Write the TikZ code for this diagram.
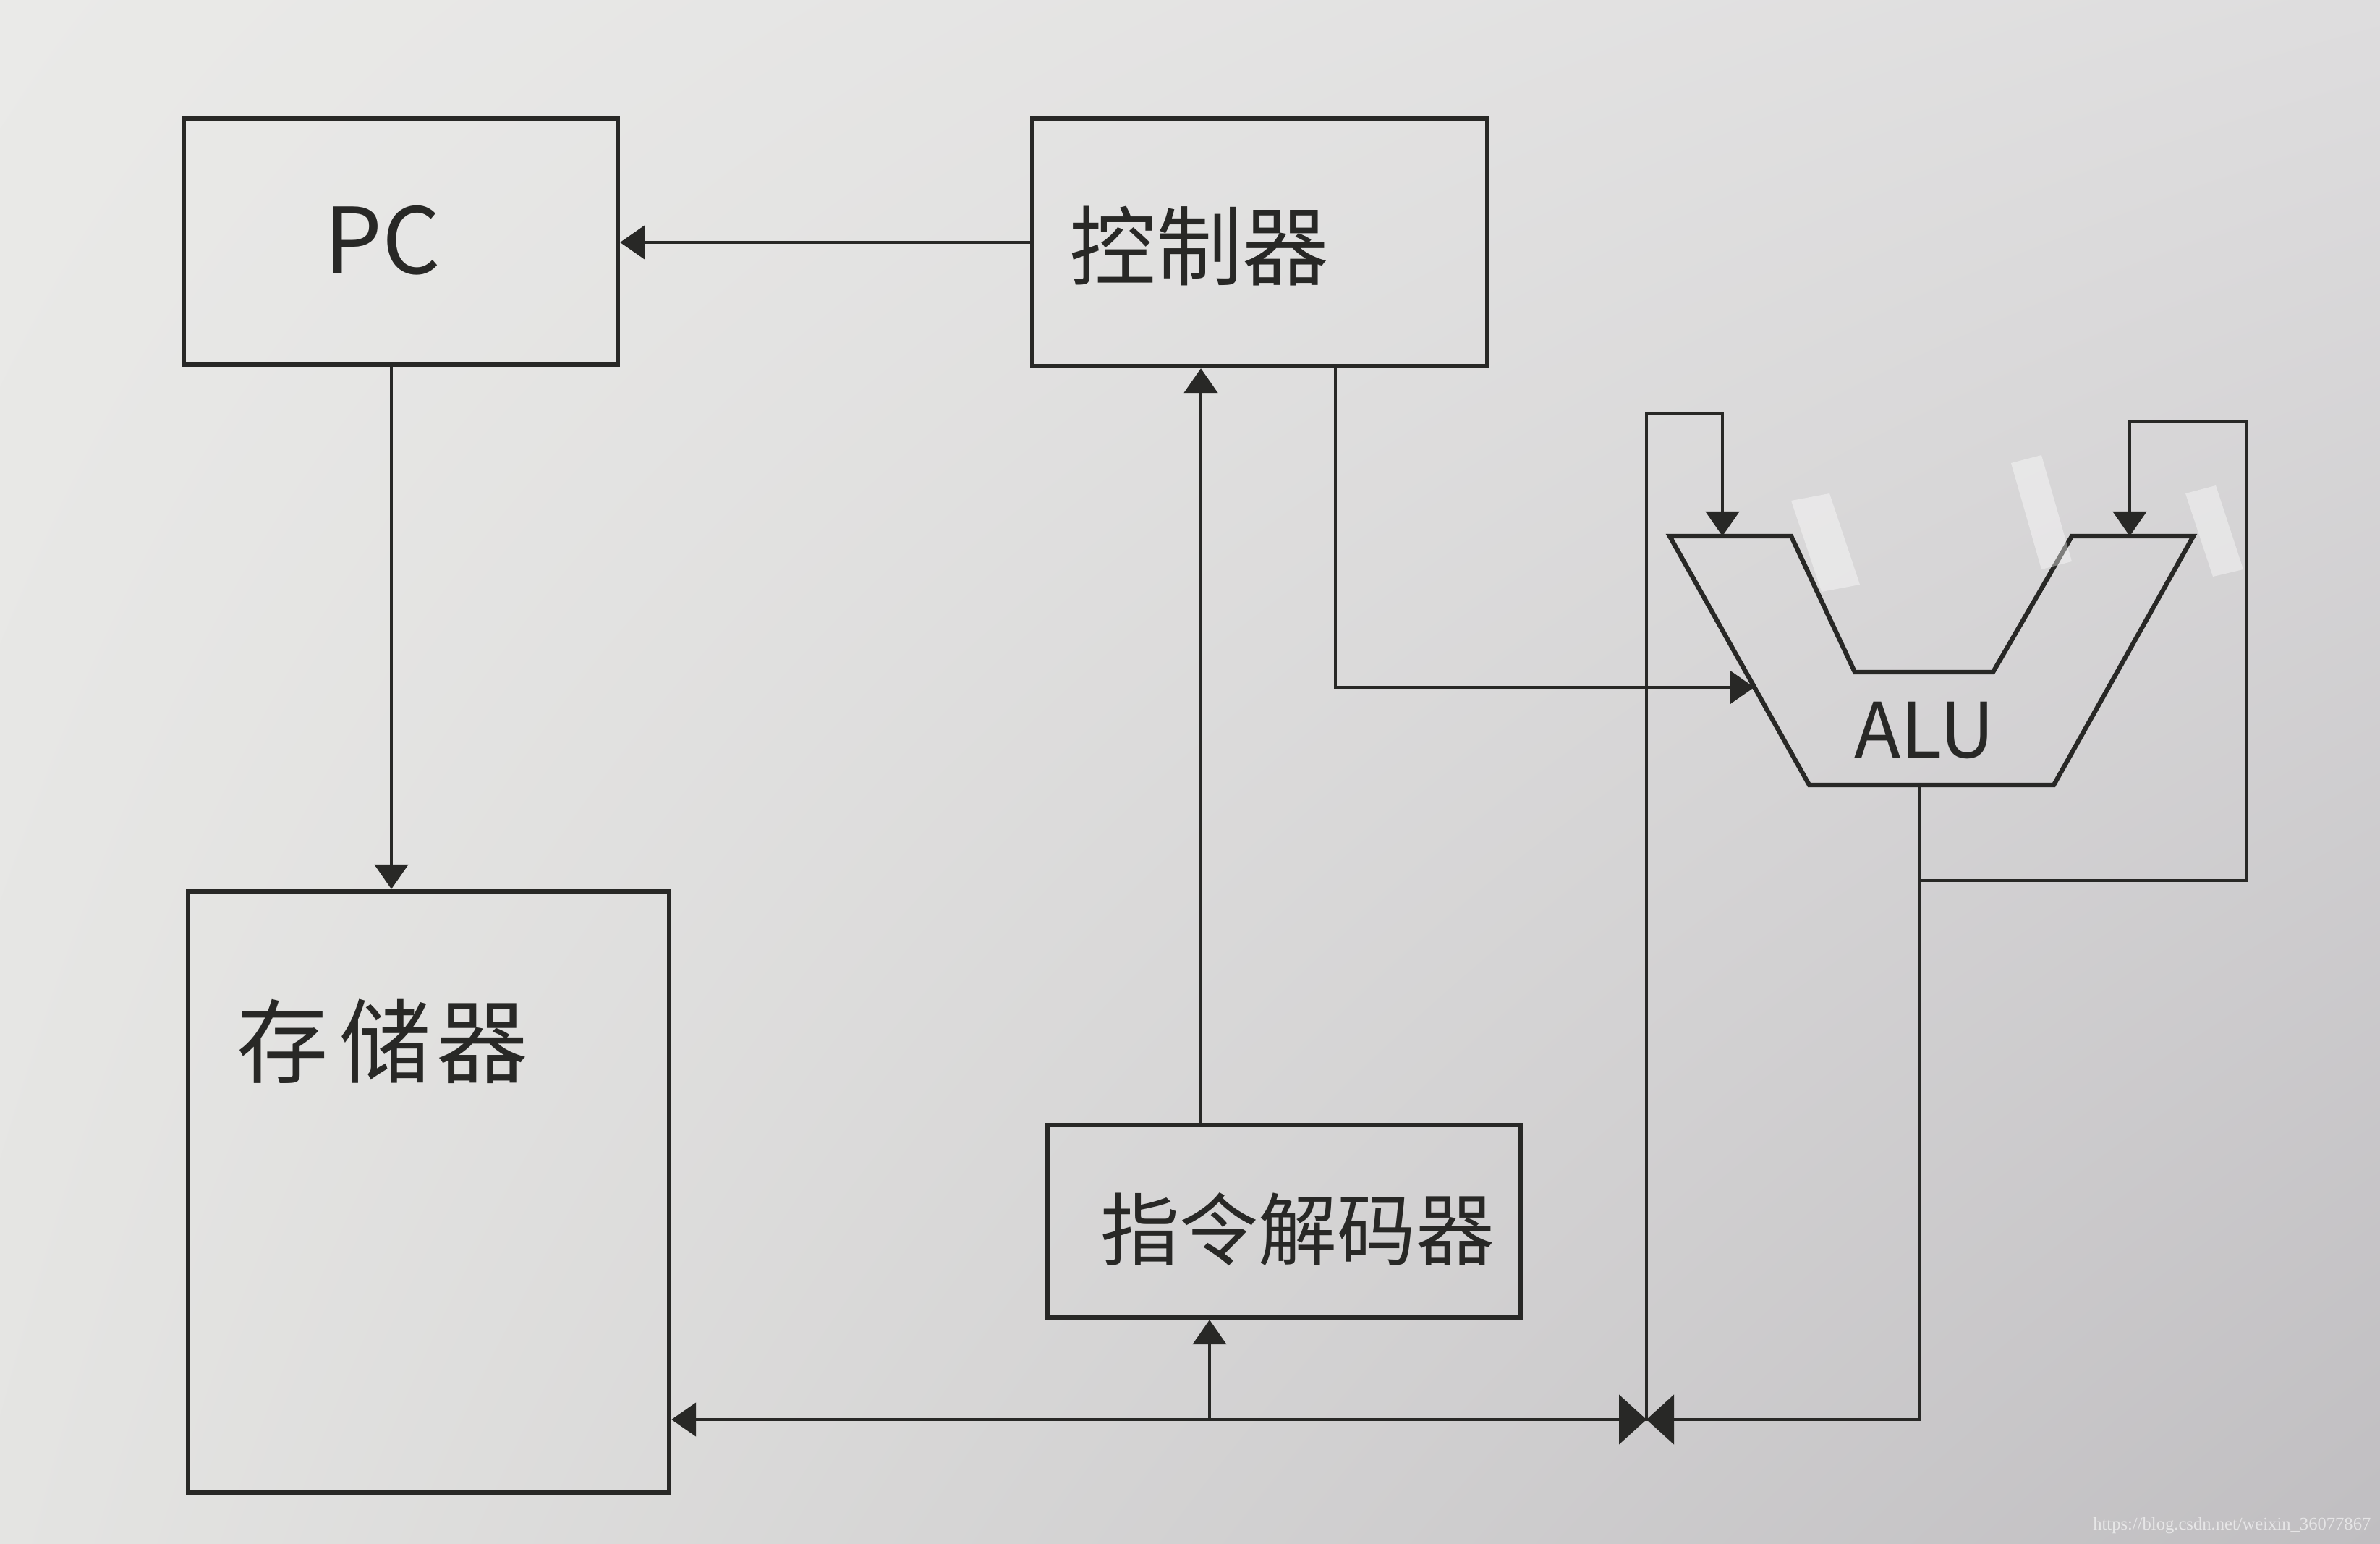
\documentclass[tikz,border=0pt]{standalone}
\usepackage{fontspec}
\usetikzlibrary{arrows.meta,calc,shadings}
\newfontfamily\cjk{Noto Sans CJK SC}
\newfontfamily\wmfont{Liberation Serif}
\definecolor{ink}{RGB}{40,40,38}
\definecolor{paperUL}{RGB}{234,234,232}
\definecolor{paperUR}{RGB}{222,221,222}
\definecolor{paperLL}{RGB}{228,228,226}
\definecolor{paperLR}{RGB}{192,190,193}
\tikzset{
  box/.style={draw=ink, line width=1.8pt, rectangle, inner sep=0pt},
  wire/.style={draw=ink, line width=1.4pt},
  arr/.style={wire, -{Triangle[length=0.34cm,width=0.46cm]}},
  tie/.style={wire, -{Triangle[length=0.38cm,width=0.68cm]}},
  lbl/.style={text=ink, inner sep=0pt, font=\cjk},
  tape/.style={fill=white, fill opacity=0.4, draw=none}
}
\begin{document}
\begin{tikzpicture}[x=1cm,y=-1cm]
\useasboundingbox (0,0) rectangle (32.9,21.34);
\shade[upper left=paperUL, upper right=paperUR, lower left=paperLL, lower right=paperLR] (0,0) rectangle (32.9,21.34);

% boxes
\node[box, minimum width=6.00cm, minimum height=3.40cm] (pc) at (5.54,3.34) {};
\node[box, minimum width=6.29cm, minimum height=3.42cm] (ctrl) at (17.415,3.35) {};
\node[box, minimum width=6.65cm, minimum height=8.31cm] (mem) at (5.925,16.475) {};
\node[box, minimum width=6.54cm, minimum height=2.66cm] (dec) at (17.75,16.88) {};

% labels
\node[lbl, font=\cjk\fontsize{36}{40}\selectfont] (pct) at (5.29,3.32) {PC};
\node[lbl, font=\cjk\fontsize{34}{40}\selectfont] (ctrlt) at (16.58,3.40) {控制器};
\node[lbl, font=\cjk\fontsize{36}{40}\selectfont] (memt) at (5.29,14.39) {存\hspace{0.12em}储\hspace{0.06em}器};
\node[lbl, font=\cjk\fontsize{31}{36}\selectfont] (dect) at (17.94,16.99) {指令解码器};

% ALU shape
\coordinate (a1) at (23.08,7.41);
\coordinate (a2) at (24.76,7.41);
\coordinate (a3) at (25.64,9.29);
\coordinate (a4) at (27.55,9.29);
\coordinate (a5) at (28.64,7.41);
\coordinate (a6) at (30.32,7.41);
\coordinate (a7) at (28.39,10.85);
\coordinate (a8) at (25.01,10.85);
\draw[wire, line width=1.8pt, line join=miter] (a1) -- (a2) -- (a3) -- (a4) -- (a5) -- (a6) -- (a7) -- (a8) -- cycle;
\node[lbl, font=\cjk\fontsize{30}{36}\selectfont] (alut) at (26.6,10.1) {ALU};

% tape patches
\fill[tape] (24.76,6.92) -- (25.29,6.82) -- (25.71,8.08) -- (25.18,8.18) -- cycle;
\fill[tape] (27.80,6.40) -- (28.22,6.29) -- (28.64,7.76) -- (28.22,7.87) -- cycle;
\fill[tape] (30.21,6.82) -- (30.63,6.71) -- (31.01,7.87) -- (30.59,7.97) -- cycle;

% coordinates
\coordinate (pcx) at (5.41,0);
\coordinate (dx) at (16.60,0);
\coordinate (cx) at (18.46,0);
\coordinate (ctlturn) at (18.46,9.50);
\coordinate (aluctl) at (24.25,9.50);
\coordinate (aluout) at (26.54,10.85);
\coordinate (fb) at (26.54,12.17);
\coordinate (fbr) at (31.05,12.17);
\coordinate (fbtr) at (31.05,5.83);
\coordinate (fbtl) at (29.44,5.83);
\coordinate (alurin) at (29.44,7.41);
\coordinate (buscorner) at (26.54,19.62);
\coordinate (junc) at (22.76,19.62);
\coordinate (jtop) at (22.76,5.71);
\coordinate (jtopr) at (23.81,5.71);
\coordinate (alulin) at (23.81,7.41);
\coordinate (brx) at (16.72,19.62);
\coordinate (tieL) at (22.16,19.62);
\coordinate (tieR) at (23.36,19.62);

% connectors
\draw[arr] (ctrl.west) -- (ctrl.west -| pc.east);
\draw[arr] (pc.south -| pcx) -- (mem.north -| pcx);
\draw[arr] (dec.north -| dx) -- (ctrl.south -| dx);
\draw[arr] (ctrl.south -| cx) -- (ctlturn) -- (aluctl);
\draw[wire] (aluout) -- (buscorner) -- (junc);
\draw[arr] (junc) -- (mem.east |- junc);
\draw[arr] (brx) -- (dec.south -| brx);
\draw[tie] (tieR) -- (junc);
\draw[tie] (tieL) -- (junc);
\draw[arr] (junc) -- (jtop) -- (jtopr) -- (alulin);
\draw[arr] (fb) -- (fbr) -- (fbtr) -- (fbtl) -- (alurin);

% watermark
\node[text=white, opacity=0.6, inner sep=0pt, anchor=east, font=\wmfont\fontsize{7}{8}\selectfont] (wm) at (32.78,21.09) {https://blog.csdn.net/weixin\_36077867};
\end{tikzpicture}
\end{document}
